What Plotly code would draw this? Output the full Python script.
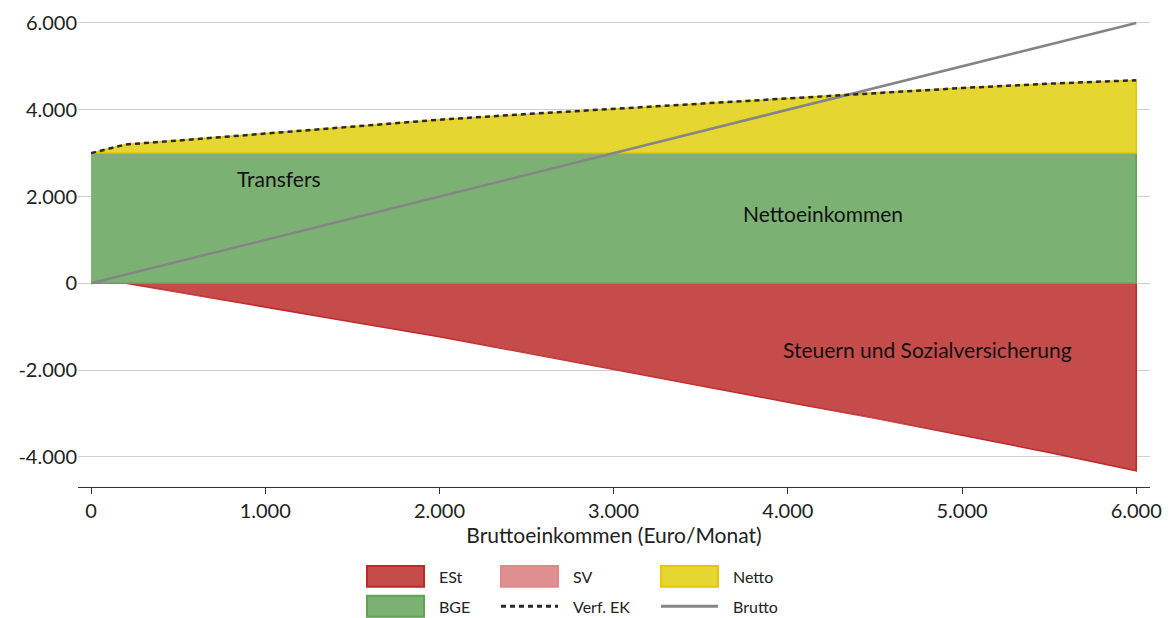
import plotly.graph_objects as go

# ---- data ----
brutto = [0, 200, 500, 1000, 1500, 2000, 2500, 3000, 3500, 4000, 4500, 5000, 5500, 6000]
est = [0, 0, 210, 550, 890, 1230, 1600, 1980, 2360, 2740, 3110, 3500, 3900, 4320]
sv = [0, 0, 0, 0, 0, 0, 0, 0, 0, 0, 0, 0, 0, 0]
bge = [3000] * 14
verf_ek = [3000, 3200, 3290, 3450, 3610, 3770, 3900, 4020, 4140, 4260, 4390, 4500, 4600, 4680]

y_tickvals = [-4000, -2000, 0, 2000, 4000, 6000]
y_ticktext = ["-4.000", "-2.000", "0", "2.000", "4.000", "6.000"]
x_tickvals = [0, 1000, 2000, 3000, 4000, 5000, 6000]
x_ticktext = ["0", "1.000", "2.000", "3.000", "4.000", "5.000", "6.000"]

labels = {"transfers": "Transfers", "netto": "Nettoeinkommen", "steuer": "Steuern und Sozialversicherung"}

# ---- colours ----
RED_F, RED_L = "#C64B4B", "#C0282A"
SV_F, SV_L = "#DE9090", "#E28686"
GRN_F, GRN_L = "#7BB274", "#5FA452"
YEL_F, YEL_L = "#E5D631", "#E5C800"
GREY = "#858585"
DASH = "#2a2a2a"
FONT = "Lato"

fig = go.Figure()

neg_est = [-v for v in est]
neg_tot = [-(a + b) for a, b in zip(est, sv)]
zeros = [0] * len(brutto)

fig.add_trace(go.Scatter(
    x=brutto + brutto[::-1], y=zeros + neg_est[::-1], fill="toself",
    fillcolor=RED_F, line=dict(color=RED_L, width=1.5), mode="lines",
    name="ESt", showlegend=False, hoverinfo="skip"))
fig.add_trace(go.Scatter(
    x=brutto + brutto[::-1], y=neg_est + neg_tot[::-1], fill="toself",
    fillcolor=SV_F, line=dict(color=SV_L, width=0), mode="lines",
    name="SV", showlegend=False, hoverinfo="skip"))
fig.add_trace(go.Scatter(
    x=brutto + brutto[::-1], y=zeros + bge[::-1], fill="toself",
    fillcolor=GRN_F, line=dict(color=GRN_L, width=1.5), mode="lines",
    name="BGE", showlegend=False, hoverinfo="skip"))
fig.add_trace(go.Scatter(
    x=brutto + brutto[::-1], y=bge + verf_ek[::-1], fill="toself",
    fillcolor=YEL_F, line=dict(color=YEL_L, width=1.5), mode="lines",
    name="Netto", showlegend=False, hoverinfo="skip"))
fig.add_trace(go.Scatter(
    x=brutto, y=brutto, mode="lines", line=dict(color=GREY, width=2.5),
    name="Brutto", showlegend=False))
fig.add_trace(go.Scatter(
    x=brutto, y=verf_ek, mode="lines", line=dict(color=DASH, width=2.5, dash="5px,4px"),
    name="Verf. EK", showlegend=False))

# ---- layout geometry (page has an 8px body margin) ----
OFF = 8
W, H = 1170 - OFF, 618 - OFF
ML, MR, MT, MB = 78 - OFF, 20, 10 - OFF, 131
PW, PH = W - ML - MR, H - MT - MB


def px(xp):  # page pixel -> paper x
    return (xp - OFF - ML) / PW


def py(yp):  # page pixel -> paper y
    return (H - MB - (yp - OFF)) / PH


annos = [
    dict(x=1079, y=2404, text=labels["transfers"], xref="x", yref="y", showarrow=False,
         font=dict(size=21, color="#111", family=FONT)),
    dict(x=4202, y=1603, text=labels["netto"], xref="x", yref="y", showarrow=False,
         font=dict(size=21, color="#111", family=FONT)),
    dict(x=4799, y=-1534, text=labels["steuer"], xref="x", yref="y", showarrow=False,
         font=dict(size=21, color="#111", family=FONT)),
]

shapes = []
legend_items = [
    ("ESt", "box", RED_F, RED_L, 367, 577),
    ("SV", "box", SV_F, SV_L, 501, 577),
    ("Netto", "box", YEL_F, YEL_L, 661, 577),
    ("BGE", "box", GRN_F, GRN_L, 367, 607),
    ("Verf. EK", "dash", None, DASH, 501, 607),
    ("Brutto", "line", None, GREY, 661, 607),
]
for name, kind, fcol, lcol, x0, yc in legend_items:
    if kind == "box":
        shapes.append(dict(type="rect", xref="paper", yref="paper",
                           x0=px(x0), x1=px(x0 + 57), y0=py(yc + 10.5), y1=py(yc - 10.5),
                           fillcolor=fcol, line=dict(color=lcol, width=2), layer="above"))
    else:
        shapes.append(dict(type="line", xref="paper", yref="paper",
                           x0=px(x0), x1=px(x0 + 57), y0=py(yc), y1=py(yc),
                           line=dict(color=lcol, width=3,
                                     dash="5px,4px" if kind == "dash" else "solid")))
    annos.append(dict(x=px(x0 + 70), y=py(yc), xref="paper", yref="paper", text=name,
                      showarrow=False, xanchor="left", yanchor="middle",
                      font=dict(size=16, color="#222", family=FONT)))

fig.update_layout(
    width=W, height=H,
    margin=dict(l=ML, r=MR, t=MT, b=MB),
    plot_bgcolor="white", paper_bgcolor="white",
    font=dict(family=FONT, size=20, color="#222"),
    showlegend=False,
    annotations=annos,
    shapes=shapes,
    xaxis=dict(
        range=[-75, 6079], tickvals=x_tickvals, ticktext=x_ticktext,
        showgrid=False, zeroline=False, showline=True, linecolor="#333", linewidth=1,
        ticks="outside", ticklen=6, tickcolor="#333",
        tickfont=dict(size=20, family=FONT, color="#222"),
        ticklabeloverflow="allow",
        title=dict(text="Bruttoeinkommen (Euro/Monat)", standoff=0,
                   font=dict(size=21, family=FONT, color="#222")),
    ),
    yaxis=dict(
        range=[-4695, 6229], tickvals=y_tickvals, ticktext=y_ticktext,
        showgrid=True, gridcolor="#cfcfcf", gridwidth=1, zeroline=False, showline=False,
        ticks="", tickfont=dict(size=20, family=FONT, color="#222"),
        ticklabeloverflow="allow",
    ),
)

fig.write_html("out.html")
